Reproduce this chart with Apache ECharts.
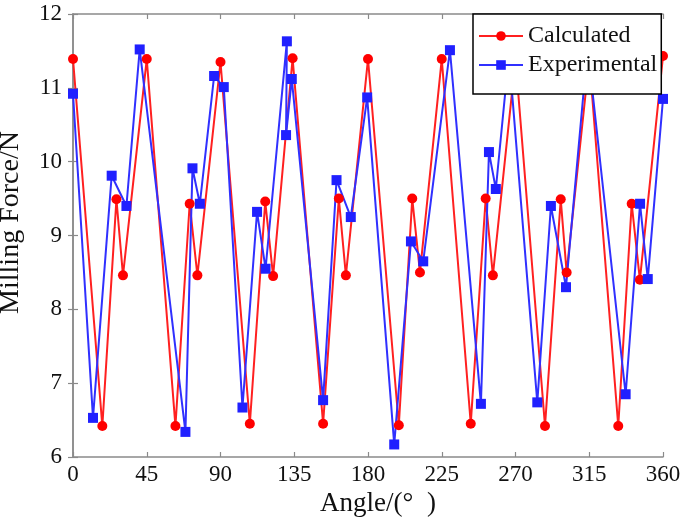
<!DOCTYPE html>
<html>
<head>
<meta charset="utf-8">
<script src="https://cdn.jsdelivr.net/npm/echarts@6/dist/echarts.min.js"></script>
<style>
html,body{margin:0;padding:0;background:#fff;}
#chart{width:685px;height:519px;}
</style>
</head>
<body>
<div id="chart"></div>
<script>
// Calculated series (angle in degrees, force in N)
var calcAngle = [0, 17.9, 26.5, 30.5, 45, 62.5, 71.2, 75.9, 90, 107.9, 117.3, 122.1, 134, 152.6, 162.2, 166.5, 180, 198.8, 207, 211.7, 225, 242.7, 251.8, 256.2, 270, 288, 297.6, 301.2, 315, 332.7, 340.9, 345.9, 360];
var calcForce = [11.39, 6.42, 9.49, 8.46, 11.39, 6.42, 9.43, 8.46, 11.35, 6.45, 9.46, 8.45, 11.40, 6.45, 9.50, 8.46, 11.39, 6.43, 9.50, 8.50, 11.39, 6.45, 9.50, 8.46, 11.39, 6.42, 9.49, 8.50, 11.39, 6.42, 9.43, 8.40, 11.43];
// Experimental series
var expAngle = [0, 12.2, 23.6, 32.6, 40.7, 68.6, 72.9, 77.4, 86.1, 92.0, 103.4, 112.3, 117.5, 130.5, 130, 133.5, 152.6, 160.8, 169.5, 179.5, 196.0, 206.2, 213.7, 230.0, 248.9, 253.8, 258.0, 266, 283.3, 291.6, 300.8, 314, 337.2, 346, 350.7, 360];
var expForce = [10.92, 6.53, 9.81, 9.40, 11.52, 6.34, 9.91, 9.43, 11.16, 11.01, 6.67, 9.32, 8.55, 11.63, 10.36, 11.12, 6.77, 9.75, 9.25, 10.87, 6.17, 8.92, 8.65, 11.51, 6.72, 10.13, 9.63, 11.45, 6.74, 9.40, 8.30, 11.55, 6.85, 9.43, 8.41, 10.85];
var xTicks = [0, 45, 90, 135, 180, 225, 270, 315, 360];
var yTicks = [6, 7, 8, 9, 10, 11, 12];
var seriesNames = ['Calculated', 'Experimental'];

function pairs(a, b) { return a.map(function (v, i) { return [v, b[i]]; }); }

var font = 'Liberation Serif';
var axisCol = '#8a8a8a';
var chart = echarts.init(document.getElementById('chart'), null, {renderer: 'canvas'});
var baseX = {
  type: 'value', min: xTicks[0], max: xTicks[xTicks.length - 1], interval: 45,
  axisLine: {show: true, lineStyle: {color: axisCol, width: 1.5}},
  axisTick: {show: true, inside: true, length: 5, lineStyle: {color: axisCol, width: 1.2}},
  splitLine: {show: false}
};
var baseY = {
  type: 'value', min: yTicks[0], max: yTicks[yTicks.length - 1], interval: 1,
  axisLine: {show: true, lineStyle: {color: axisCol, width: 1.5}},
  axisTick: {show: true, inside: true, length: 5, lineStyle: {color: axisCol, width: 1.2}},
  splitLine: {show: false}
};
chart.setOption({
  backgroundColor: '#fff',
  animation: false,
  grid: {left: 73, right: 22, top: 14, bottom: 62, containLabel: false, outerBoundsMode: 'none'},
  legend: {
    data: seriesNames,
    orient: 'vertical',
    left: 473, top: 14,
    padding: [10, 4, 17, 5],
    itemGap: 5,
    itemWidth: 44, itemHeight: 12,
    backgroundColor: '#fff',
    borderColor: '#000', borderWidth: 1.5,
    textStyle: {fontFamily: font, fontSize: 24, color: '#111'}
  },
  xAxis: [
    Object.assign({}, baseX, {
      position: 'bottom',
      name: 'Angle/(°  )', nameLocation: 'middle', nameGap: 30,
      nameTextStyle: {fontFamily: font, fontSize: 27, color: '#111', padding: [0, 0, 0, 20]},
      axisLabel: {fontFamily: font, fontSize: 23, color: '#111', margin: 6}
    }),
    Object.assign({}, baseX, {position: 'top', axisLabel: {show: false}})
  ],
  yAxis: [
    Object.assign({}, baseY, {
      position: 'left',
      name: 'Milling Force/N', nameLocation: 'middle', nameGap: 48,
      nameTextStyle: {fontFamily: font, fontSize: 28, color: '#111', padding: [0, 0, 0, 26]},
      axisLabel: {fontFamily: font, fontSize: 23, color: '#111', margin: 11}
    }),
    Object.assign({}, baseY, {position: 'right', axisLabel: {show: false}})
  ],
  series: [
    {
      name: seriesNames[0], type: 'line', xAxisIndex: 0, yAxisIndex: 0,
      data: pairs(calcAngle, calcForce),
      symbol: 'circle', symbolSize: 10,
      itemStyle: {color: '#ff0000'},
      lineStyle: {color: '#ff2020', width: 2}
    },
    {
      name: seriesNames[1], type: 'line', xAxisIndex: 0, yAxisIndex: 0,
      data: pairs(expAngle, expForce),
      symbol: 'rect', symbolSize: 10,
      itemStyle: {color: '#2020ff'},
      lineStyle: {color: '#3030ff', width: 2}
    }
  ]
});
</script>
</body>
</html>
